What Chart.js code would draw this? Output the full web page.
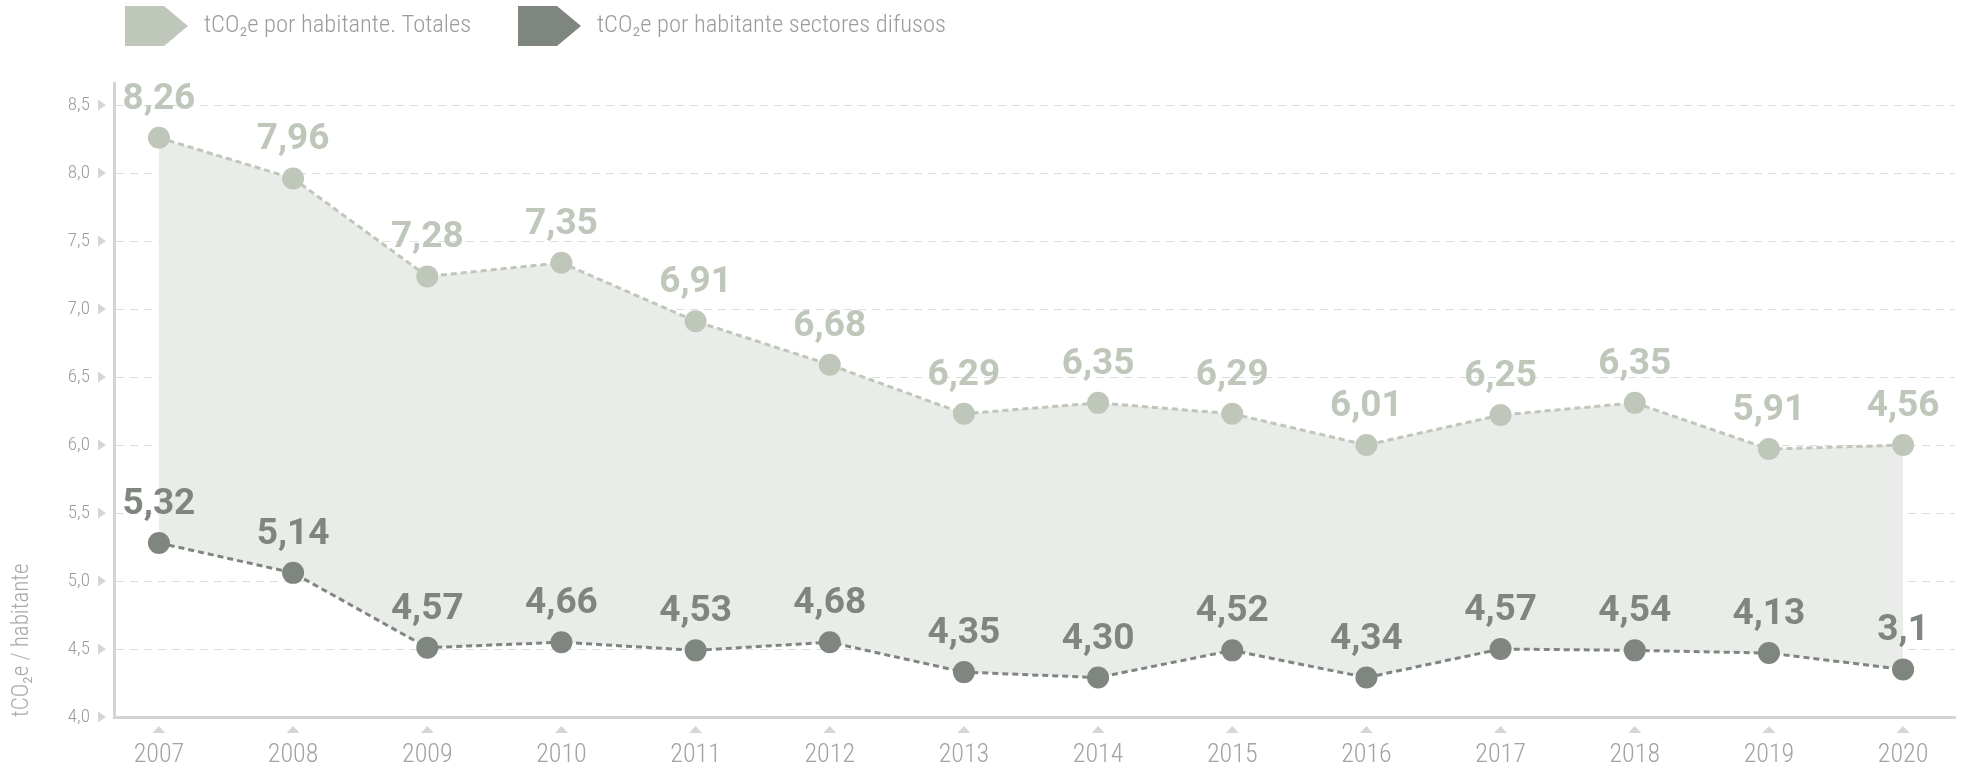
<!DOCTYPE html>
<html>
<head>
<meta charset="utf-8">
<script src="https://cdn.jsdelivr.net/npm/chart.js@4.4.1/dist/chart.umd.min.js"></script>
<style>
  html, body { margin: 0; padding: 0; background: #fff; }
</style>
</head>
<body>
<canvas id="c" width="1966" height="768"></canvas>
<script>
// data
const years = [2007, 2008, 2009, 2010, 2011, 2012, 2013, 2014, 2015, 2016, 2017, 2018, 2019, 2020];
const totales = [8.26, 7.96, 7.24, 7.34, 6.91, 6.59, 6.23, 6.31, 6.23, 6.00, 6.22, 6.31, 5.97, 6.00];
const difusos = [5.28, 5.06, 4.51, 4.55, 4.49, 4.55, 4.33, 4.29, 4.49, 4.29, 4.50, 4.49, 4.47, 4.35];
// the printed labels (they don't always match the plotted points)
const totalesLabels = ["8,26", "7,96", "7,28", "7,35", "6,91", "6,68", "6,29", "6,35", "6,29", "6,01", "6,25", "6,35", "5,91", "4,56"];
const difusosLabels = ["5,32", "5,14", "4,57", "4,66", "4,53", "4,68", "4,35", "4,30", "4,52", "4,34", "4,57", "4,54", "4,13", "3,1"];
const yTicks = [4.0, 4.5, 5.0, 5.5, 6.0, 6.5, 7.0, 7.5, 8.0, 8.5];

const LIGHT = "#bfc7bb";
const DARK = "#7f867f";
const FILL = "#eaece9";
const AXIS = "#d4d4d4";
const COND = "'Roboto Condensed', 'Liberation Sans Narrow', sans-serif";

// arrow boxes + text on top
const legendPlugin = {
  id: "arrowLegend",
  afterDraw(chart) {
    const ctx = chart.ctx;
    const pos = [125, 518];
    chart.data.datasets.forEach((ds, i) => {
      const x = pos[i], y = 6, w = 63, h = 40, body = 39;
      ctx.save();
      ctx.fillStyle = ds.pointBackgroundColor;
      ctx.beginPath();
      ctx.moveTo(x, y);
      ctx.lineTo(x + body, y);
      ctx.lineTo(x + w, y + h / 2);
      ctx.lineTo(x + body, y + h);
      ctx.lineTo(x, y + h);
      ctx.closePath();
      ctx.fill();
      ctx.fillStyle = "#9c9c9c";
      ctx.font = "300 24.5px " + COND;
      ctx.textBaseline = "middle";
      ctx.fillText(ds.label, x + w + 16, y + h / 2);
      ctx.restore();
    });
  }
};

// little triangles next to the tick labels
const tickMarks = {
  id: "tickMarks",
  afterDraw(chart) {
    const ctx = chart.ctx;
    const xs = chart.scales.x, ys = chart.scales.y;
    ctx.save();
    ctx.fillStyle = "#d6d6d6";
    ys.ticks.forEach(t => {
      const py = ys.getPixelForValue(t.value);
      ctx.beginPath();
      ctx.moveTo(98, py - 5.5);
      ctx.lineTo(106, py);
      ctx.lineTo(98, py + 5.5);
      ctx.closePath();
      ctx.fill();
    });
    const base = xs.top;
    xs.ticks.forEach(t => {
      const px = xs.getPixelForValue(t.value);
      ctx.beginPath();
      ctx.moveTo(px - 6.5, base + 16);
      ctx.lineTo(px, base + 9);
      ctx.lineTo(px + 6.5, base + 16);
      ctx.closePath();
      ctx.fill();
    });
    ctx.restore();
  }
};

// value labels above each point
const valueLabels = {
  id: "valueLabels",
  afterDatasetsDraw(chart) {
    const ctx = chart.ctx;
    ctx.save();
    ctx.font = "bold 37px Roboto, 'Liberation Sans', sans-serif";
    ctx.textAlign = "center";
    ctx.textBaseline = "alphabetic";
    chart.data.datasets.forEach((ds, i) => {
      const meta = chart.getDatasetMeta(i);
      ctx.fillStyle = ds.pointBackgroundColor;
      meta.data.forEach((pt, j) => {
        ctx.fillText(ds.valueLabels[j], pt.x, pt.y - 29);
      });
    });
    ctx.restore();
  }
};

new Chart(document.getElementById("c"), {
  type: "line",
  data: {
    datasets: [
      {
        label: "tCO\u2082e por habitante. Totales",
        data: years.map((y, i) => ({ x: y, y: totales[i] })),
        valueLabels: totalesLabels,
        borderColor: LIGHT,
        borderWidth: 3,
        borderDash: [6, 4],
        backgroundColor: FILL,
        fill: "+1",
        pointRadius: 11,
        pointBorderWidth: 0,
        pointBackgroundColor: LIGHT,
        tension: 0
      },
      {
        label: "tCO\u2082e por habitante sectores difusos",
        data: years.map((y, i) => ({ x: y, y: difusos[i] })),
        valueLabels: difusosLabels,
        borderColor: DARK,
        borderWidth: 3,
        borderDash: [6, 4],
        fill: false,
        pointRadius: 11,
        pointBorderWidth: 0,
        pointBackgroundColor: DARK,
        tension: 0
      }
    ]
  },
  options: {
    responsive: false,
    animation: false,
    devicePixelRatio: 1,
    layout: { padding: { top: 83, right: 8, left: 0, bottom: 0 } },
    plugins: {
      legend: { display: false },
      tooltip: { enabled: false },
      filler: { drawTime: "beforeDatasetsDraw" }
    },
    scales: {
      x: {
        type: "linear",
        min: 2006.665,
        max: 2020.387,
        afterBuildTicks: s => { s.ticks = years.map(v => ({ value: v })); },
        afterFit: s => { s.height = 51; },
        grid: { display: false },
        border: { display: true, color: AXIS, width: 3 },
        ticks: {
          callback: v => String(v),
          color: "#a3a3a3",
          font: { family: COND, size: 26, weight: 300 },
          padding: 15,
          maxRotation: 0,
          autoSkip: false
        }
      },
      y: {
        type: "linear",
        min: 4,
        max: 8.662,
        afterBuildTicks: s => { s.ticks = yTicks.map(v => ({ value: v })); },
        afterFit: s => { s.width = 114; },
        grid: { color: "#dedede", lineWidth: 1, drawTicks: false },
        border: { display: true, color: AXIS, width: 3, dash: [8, 6] },
        title: {
          display: true,
          text: "tCO\u2082e / habitante",
          align: "start",
          color: "#a8a8a8",
          font: { family: COND, size: 23, weight: 300 },
          padding: { top: 8, bottom: 0 }
        },
        ticks: {
          callback: v => v.toFixed(1).replace(".", ","),
          color: "#9c9c9c",
          font: { family: COND, size: 19, weight: 300 },
          padding: 24
        }
      }
    }
  },
  plugins: [legendPlugin, tickMarks, valueLabels]
});
</script>
</body>
</html>
